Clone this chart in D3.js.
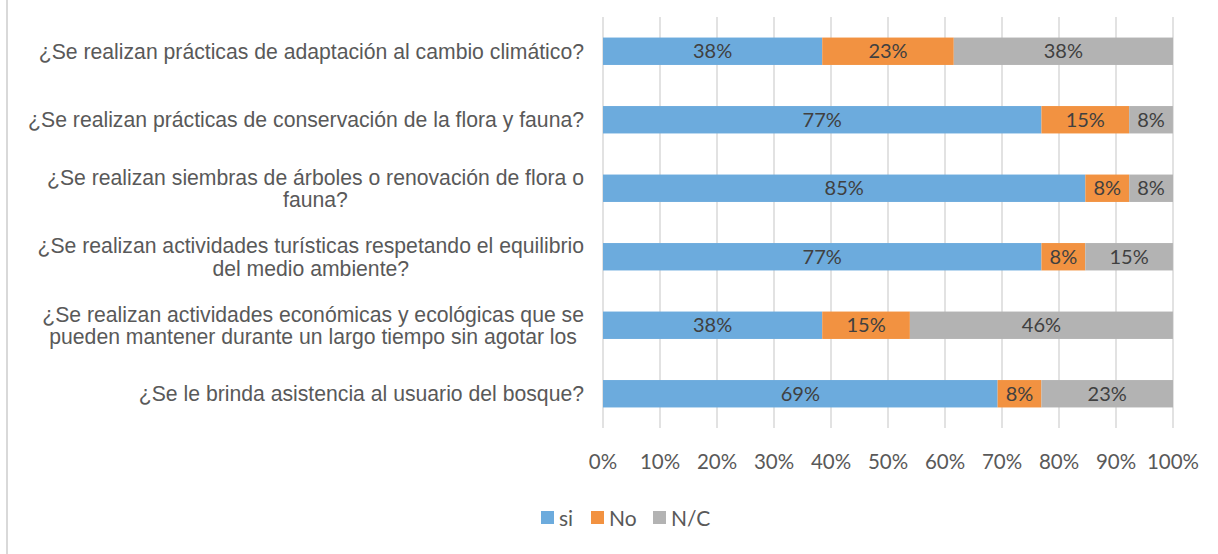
<!DOCTYPE html>
<html>
<head>
<meta charset="utf-8">
<script src="https://cdn.jsdelivr.net/npm/d3@7"></script>
<style>
  body { margin: 0; background: #fff; }
  svg { display: block; }
</style>
</head>
<body>
<script>
// categories, top to bottom
var categories = [
	'¿Se realizan prácticas de adaptación al cambio climático?',
	'¿Se realizan prácticas de conservación de la flora y fauna?',
	'¿Se realizan siembras de árboles o renovación de flora o\nfauna?',
	'¿Se realizan actividades turísticas respetando el equilibrio\ndel medio ambiente?',
	'¿Se realizan actividades económicas y ecológicas que se\npueden mantener durante un largo tiempo sin agotar los',
	'¿Se le brinda asistencia al usuario del bosque?'
]

var seriesNames = ['si', 'No', 'N/C']

var si = [38.46, 76.92, 84.62, 76.92, 38.46, 69.23]
var no = [23.08, 15.38, 7.69, 7.69, 15.38, 7.69]
var nc = [38.46, 7.69, 7.69, 15.38, 46.15, 23.08]

var ticks = [0, 10, 20, 30, 40, 50, 60, 70, 80, 90, 100]

var colors = ['#6CABDD', '#F29241', '#B3B3B3']

var width = 1218,
	height = 554

var svg = d3.select('body').append('svg')
	.attr('width', width)
	.attr('height', height)

// chart frame (only left edge visible)
svg.append('line')
	.attr('x1', 7).attr('x2', 7)
	.attr('y1', 0).attr('y2', height)
	.attr('stroke', '#d9d9d9')
	.attr('stroke-width', 2)

var x = d3.scaleLinear()
	.domain([0, 100])
	.range([603, 1173])

var y = d3.scaleBand()
	.domain(categories)
	.range([17, 428])
	.paddingInner(0.6)
	.paddingOuter(0.3)

// gridlines
svg.append('g')
	.selectAll('line')
	.data(ticks)
	.enter()
	.append('line')
		.attr('x1', d => x(d))
		.attr('x2', d => x(d))
		.attr('y1', 17)
		.attr('y2', 428)
		.attr('stroke', '#d9d9d9')
		.attr('stroke-width', 1.5)

// stacked data
var table = categories.map((c, i) => ({cat: c, si: si[i], No: no[i], 'N/C': nc[i]}))
var stack = d3.stack().keys(seriesNames)(table)

var layers = svg.append('g')
	.selectAll('g')
	.data(stack)
	.enter()
	.append('g')
		.attr('fill', (d, i) => colors[i])

layers.selectAll('rect')
	.data(d => d)
	.enter()
	.append('rect')
		.attr('x', d => x(d[0]))
		.attr('y', d => y(d.data.cat))
		.attr('width', d => x(d[1]) - x(d[0]))
		.attr('height', y.bandwidth())

// value labels
layers.selectAll('text')
	.data(d => d)
	.enter()
	.append('text')
		.attr('x', d => (x(d[0]) + x(d[1])) / 2)
		.attr('y', d => y(d.data.cat) + y.bandwidth() / 2)
		.attr('dy', '0.36em')
		.attr('text-anchor', 'middle')
		.attr('font-family', 'Lato, sans-serif')
		.attr('font-size', 20)
		.attr('fill', '#404040')
		.text(d => Math.round(d[1] - d[0]) + '%')

// x axis tick labels
svg.append('g')
	.selectAll('text')
	.data(ticks)
	.enter()
	.append('text')
		.attr('x', d => x(d))
		.attr('y', 462)
		.attr('dy', '0.36em')
		.attr('text-anchor', 'middle')
		.attr('font-family', 'Lato, sans-serif')
		.attr('font-size', 20.5)
		.attr('fill', '#595959')
		.text(d => d + '%')

// category labels: block right aligned, lines centred within it
var labelRight = 584
categories.forEach(function(c) {
	var lines = c.split('\n')
	var g = svg.append('g')
	var cy = y(c) + y.bandwidth() / 2
	var lh = 22.5
	var texts = lines.map((l, j) => g.append('text')
		.attr('y', cy + (j - (lines.length - 1) / 2) * lh)
		.attr('dy', '0.36em')
		.attr('text-anchor', 'middle')
		.attr('font-family', '"Liberation Sans", Arial, sans-serif')
		.attr('font-size', 21.2)
		.attr('fill', '#595959')
		.text(l))
	var w = d3.max(texts, t => t.node().getComputedTextLength())
	texts.forEach(t => t.attr('x', labelRight - w / 2))
})

// legend
var legend = svg.append('g')
var legX = [541, 591, 653]
seriesNames.forEach(function(s, i) {
	legend.append('rect')
		.attr('x', legX[i])
		.attr('y', 511)
		.attr('width', 13)
		.attr('height', 13)
		.attr('fill', colors[i])
	legend.append('text')
		.attr('x', legX[i] + 18)
		.attr('y', 518)
		.attr('dy', '0.36em')
		.attr('font-family', 'Lato, sans-serif')
		.attr('font-size', 21)
		.attr('fill', '#595959')
		.text(s)
})
</script>
</body>
</html>
